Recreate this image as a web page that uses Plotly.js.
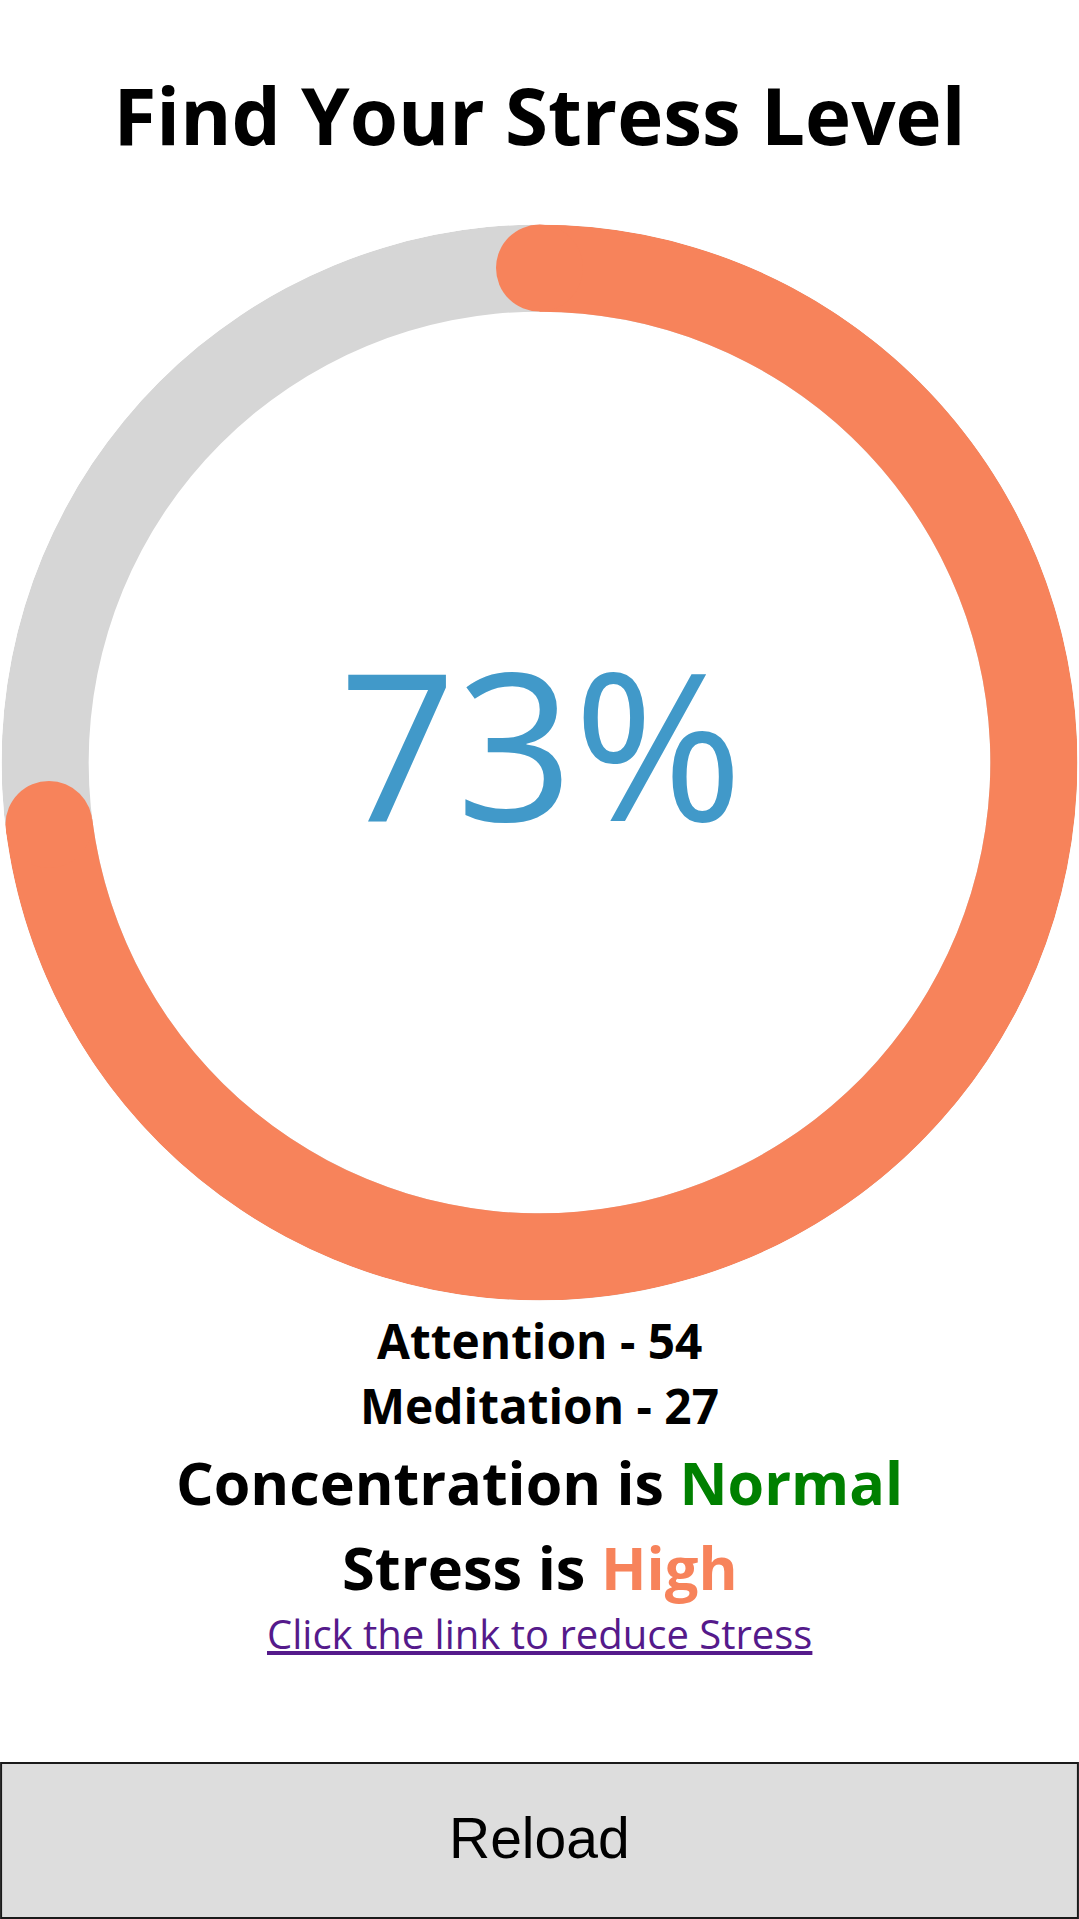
<!DOCTYPE html>
<html>
<head>
<meta charset="utf-8">
<script src="https://cdn.plot.ly/plotly-3.0.1.min.js"></script>
<style>
  html, body { margin: 0; padding: 0; background: #ffffff; }
  #chart { width: 1079px; height: 1919px; }
</style>
</head>
<body>
<div id="chart"></div>
<script>
// ---- data ----
const stressValue = [73];          // stress percentage
const scaleMax = [100];            // full scale of gauge
const metricLabels = ['Attention', 'Meditation'];
const metricValues = [54, 27];
const statusLabels = ['Concentration', 'Stress'];
const statusLevels = ['Normal', 'High'];
const linkText = ['Click the link to reduce Stress'];
const titleText = ['Find Your Stress Level'];
const buttonText = ['Reload'];

// ---- styles ----
const ORANGE = '#F7835B';
const TRACK = '#D6D6D6';
const BLUE = '#4199C9';
const GREEN = '#008000';
const LINK = '#551A8B';
const H = 1919, W = 1079;
const FONT = 'Open Sans, Noto Sans, sans-serif';
const py = px => 1 - px / H;

const deg = v => v / scaleMax[0] * 360;
const ringBase = 83.8, ringThick = 16.2, ringMid = ringBase + ringThick / 2;

const traces = [
  { type: 'barpolar', r: [ringThick], base: [ringBase], theta: [deg(scaleMax[0]) / 2], width: [deg(scaleMax[0])],
    marker: { color: TRACK, line: { width: 0 } }, hoverinfo: 'skip', showlegend: false },
  { type: 'barpolar', r: [ringThick], base: [ringBase], theta: [deg(stressValue[0]) / 2], width: [deg(stressValue[0])],
    marker: { color: ORANGE, line: { width: 0 } }, hoverinfo: 'skip', showlegend: false },
  { type: 'scatterpolar', mode: 'markers', r: [ringMid, ringMid], theta: [0, deg(stressValue[0])],
    marker: { color: ORANGE, size: 87, line: { width: 0 } }, hoverinfo: 'skip', showlegend: false }
];

const annotations = [
  { text: stressValue[0] + '%', x: 0.5015, y: py(741), font: { family: FONT, size: 205, color: BLUE } },
  { text: '<b>' + metricLabels[0] + ' - ' + metricValues[0] + '</b>', x: 0.5, y: py(1340), font: { family: FONT, size: 47.8, color: '#000' } },
  { text: '<b>' + metricLabels[1] + ' - ' + metricValues[1] + '</b>', x: 0.5, y: py(1405.5), font: { family: FONT, size: 47.8, color: '#000' } },
  { text: '<b>' + statusLabels[0] + ' is <span style="color:' + GREEN + '">' + statusLevels[0] + '</span></b>', x: 0.5, y: py(1481.5), font: { family: FONT, size: 59.2, color: '#000' } },
  { text: '<b>' + statusLabels[1] + ' is <span style="color:' + ORANGE + '">' + statusLevels[1] + '</span></b>', x: 0.5, y: py(1566), font: { family: FONT, size: 59.6, color: '#000' } },
  { text: '<u>' + linkText[0] + '</u>', x: 0.5, y: py(1633), font: { family: FONT, size: 40, color: LINK } },
  { text: buttonText[0], x: 0.5, y: py(1838), font: { family: 'Liberation Sans, Arial, sans-serif', size: 57, color: '#000' } }
].map(a => Object.assign({ xref: 'paper', yref: 'paper', xanchor: 'center', yanchor: 'middle', showarrow: false }, a));

const layout = {
  width: W, height: H,
  margin: { l: 0, r: 0, t: 0, b: 0, pad: 0 },
  paper_bgcolor: '#ffffff',
  plot_bgcolor: '#ffffff',
  showlegend: false,
  title: { text: '<b>' + titleText[0] + '</b>', x: 0.5, xanchor: 'center', y: py(117.5), yanchor: 'middle', yref: 'container',
           font: { family: FONT, size: 78, color: '#000' } },
  polar: {
    domain: { x: [0, 1], y: [py(1300.5), py(224.5)] },
    bgcolor: 'rgba(0,0,0,0)',
    hole: 0,
    radialaxis: { range: [0, 100], visible: false, showgrid: false },
    angularaxis: { rotation: 90, direction: 'clockwise', visible: false, showgrid: false }
  },
  shapes: [
    { type: 'rect', xref: 'paper', yref: 'paper', x0: 0.001, x1: 0.999, y0: 0.0005, y1: py(1763),
      fillcolor: '#DDDDDD', line: { color: '#1a1a1a', width: 2 }, layer: 'below' }
  ],
  annotations: annotations
};

Plotly.newPlot('chart', traces, layout, { displayModeBar: false, staticPlot: true });
</script>
</body>
</html>
